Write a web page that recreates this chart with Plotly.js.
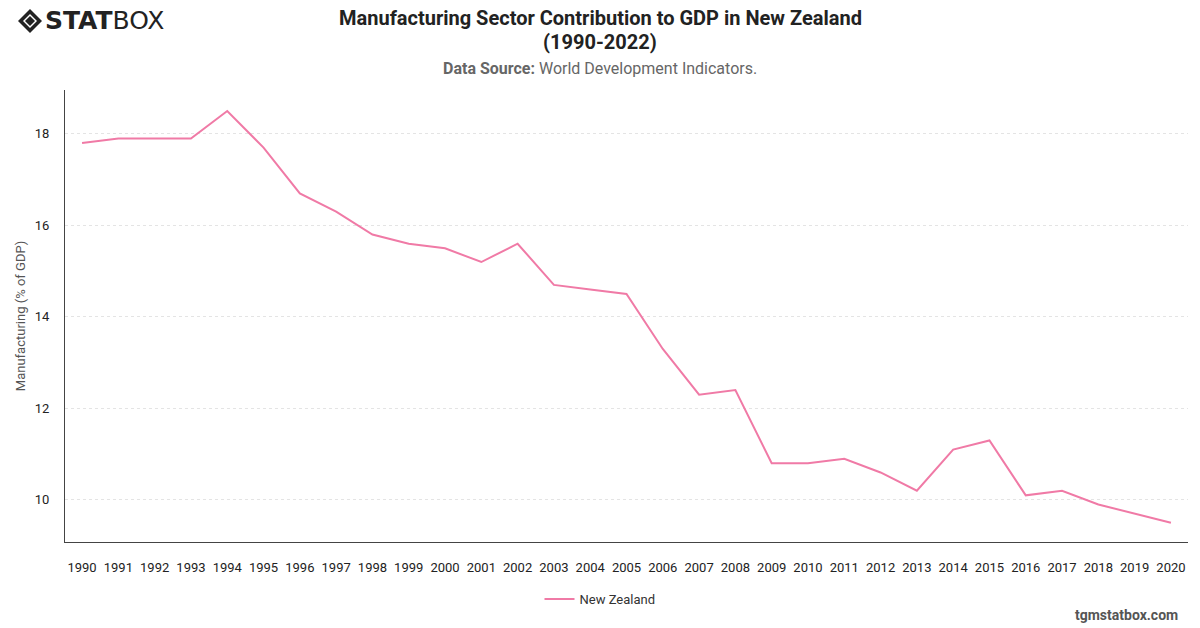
<!DOCTYPE html>
<html>
<head>
<meta charset="utf-8">
<script src="https://cdn.plot.ly/plotly-3.0.1.min.js"></script>
<style>html,body{margin:0;padding:0;background:#fff;}#chart{width:1200px;height:628px;}</style>
</head>
<body>
<div id="chart"></div>
<script>
const years = [1990,1991,1992,1993,1994,1995,1996,1997,1998,1999,2000,2001,2002,2003,2004,2005,2006,2007,2008,2009,2010,2011,2012,2013,2014,2015,2016,2017,2018,2019,2020];
const manufacturing = [17.8,17.9,17.9,17.9,18.5,17.7,16.7,16.3,15.8,15.6,15.5,15.2,15.6,14.7,14.6,14.5,13.3,12.3,12.4,10.8,10.8,10.9,10.6,10.2,11.1,11.3,10.1,10.2,9.9,9.7,9.5];
const yTicks = [10,12,14,16,18];

const L = 65, R = 12, T = 90, B = 86, W = 1200, H = 628;
const pw = W - L - R, ph = H - T - B;
const px = x => (x - L) / pw;
const py = y => (H - B - y) / ph;

const cx = 30, cy = 21, s = 12, s2 = 6;
function dpath(r){
  return `M ${px(cx)} ${py(cy - r)} L ${px(cx + r)} ${py(cy)} L ${px(cx)} ${py(cy + r)} L ${px(cx - r)} ${py(cy)} Z`;
}

const font = "Roboto, 'Helvetica Neue', Arial, sans-serif";

Plotly.newPlot('chart', [{
  x: years,
  y: manufacturing,
  type: 'scatter',
  mode: 'lines',
  name: 'New Zealand',
  line: {color: '#f07aa6', width: 2}
}], {
  width: W, height: H,
  margin: {l: L, r: R, t: T, b: B, autoexpand: false},
  paper_bgcolor: '#fff', plot_bgcolor: '#fff',
  font: {family: font, color: '#222', size: 13},
  xaxis: {
    type: 'linear',
    range: [1989.53, 2020.47],
    tickmode: 'array', tickvals: years, ticktext: years.map(String),
    showgrid: false, zeroline: false,
    showline: true, linecolor: '#444', linewidth: 1,
    ticks: '', ticklen: 0, ticklabelstandoff: 13,
    tickfont: {size: 13, color: '#222'},
    automargin: false,
    fixedrange: true
  },
  yaxis: {
    range: [9.08, 18.96],
    tickmode: 'array', tickvals: yTicks,
    showgrid: true, gridcolor: '#e4e4e4', griddash: 'dot', gridwidth: 1,
    zeroline: false,
    showline: true, linecolor: '#444', linewidth: 1,
    ticks: '', ticklabelstandoff: 12,
    tickfont: {size: 13, color: '#222'},
    title: {text: 'Manufacturing (% of GDP)', font: {size: 13, color: '#555'}, standoff: 6},
    automargin: false,
    fixedrange: true
  },
  showlegend: true,
  legend: {
    orientation: 'h', x: px(600), xanchor: 'center', y: py(599), yanchor: 'middle',
    itemwidth: 30,
    font: {size: 13, color: '#333'}
  },
  shapes: [
    {type: 'path', xref: 'paper', yref: 'paper', path: dpath(s), fillcolor: '#222', line: {width: 0}},
    {type: 'path', xref: 'paper', yref: 'paper', path: dpath(s2+1), fillcolor: '#fff', line: {width: 0}},
    {type: 'path', xref: 'paper', yref: 'paper', path: dpath(s2-1), fillcolor: '#222', line: {width: 0}}
  ],
  annotations: [
    {text: '<b>Manufacturing Sector Contribution to GDP in New Zealand</b>', xref: 'paper', yref: 'paper',
     x: px(600), y: py(18), xanchor: 'center', yanchor: 'middle', showarrow: false,
     font: {size: 20, color: '#222'}},
    {text: '<b>(1990-2022)</b>', xref: 'paper', yref: 'paper',
     x: px(600), y: py(42), xanchor: 'center', yanchor: 'middle', showarrow: false,
     font: {size: 20, color: '#222'}},
    {text: '<b>Data Source:</b> World Development Indicators.', xref: 'paper', yref: 'paper',
     x: px(600), y: py(68), xanchor: 'center', yanchor: 'middle', showarrow: false,
     font: {size: 16, color: '#666'}},
    {text: '<b>STAT</b>BOX', xref: 'paper', yref: 'paper',
     x: px(43), y: py(21), xanchor: 'left', yanchor: 'middle', showarrow: false,
     font: {size: 25, color: '#222', family: "'DejaVu Sans', Arial, sans-serif"}},
    {text: '<b>tgmstatbox.com</b>', xref: 'paper', yref: 'paper',
     x: px(1180), y: py(615), xanchor: 'right', yanchor: 'middle', showarrow: false,
     font: {size: 14, color: '#555'}}
  ]
}, {displayModeBar: false, staticPlot: true});
</script>
</body>
</html>
